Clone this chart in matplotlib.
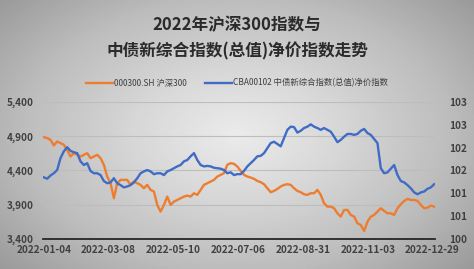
import numpy as np
import matplotlib
matplotlib.use("Agg")
import matplotlib.pyplot as plt

plt.rcParams['font.family'] = ['Noto Sans CJK SC', 'DejaVu Sans']

title = "2022年沪深300指数与\n中债新综合指数(总值)净价指数走势"
name_csi = "000300.SH 沪深300"
name_bond = "CBA00102 中债新综合指数(总值)净价指数"

# trading-day tick labels (every 40 trading days)
tick_labels = ["2022-01-04", "2022-03-08", "2022-05-10", "2022-07-06",
               "2022-08-31", "2022-11-03", "2022-12-29"]
n_days = 242

# CSI 300 (~every 2 trading days)
csi300 = [4887, 4873, 4848, 4765, 4824, 4800, 4775, 4702, 4604, 4653,
          4629, 4604, 4629, 4653, 4580, 4604, 4629, 4580, 4483, 4312,
          4214, 3995, 4214, 4263, 4263, 4263, 4190, 4239, 4214, 4190,
          4141, 4190, 4117, 4092, 3897, 3800, 3897, 4019, 3897, 3946,
          3970, 3995,
          4019, 4034, 4019, 4068, 4044, 4117, 4190, 4214, 4239, 4263,
          4312, 4336, 4361, 4483, 4507, 4497, 4458, 4395, 4336, 4312,
          4297, 4278, 4248, 4229, 4200, 4141, 4083, 4102, 4131, 4166,
          4190, 4200, 4190, 4141, 4102, 4083, 4053, 4044, 4068,
          4068, 4117, 4044, 3922, 3873, 3873, 3849, 3775, 3727, 3824,
          3824, 3751, 3727, 3629, 3605, 3517, 3653, 3727, 3751, 3800,
          3849, 3810, 3775, 3775, 3751, 3849, 3907, 3956, 3985, 3970,
          3970, 3956, 3897, 3849, 3858, 3888, 3873]

# CBA00102 net price index
bond = [101.35, 101.32, 101.39, 101.44, 101.51, 101.77, 101.92, 102.01, 101.93, 101.90,
        101.88, 101.70, 101.62, 101.66, 101.49, 101.44, 101.44, 101.40, 101.27, 101.22,
        101.24, 101.33, 101.22, 101.18, 101.13, 101.15, 101.18, 101.24, 101.33, 101.44,
        101.48, 101.51, 101.48, 101.42, 101.44, 101.44, 101.40, 101.48, 101.51, 101.55,
        101.59, 101.62,
        101.70, 101.73, 101.81, 101.88, 101.73, 101.62, 101.59, 101.60, 101.59, 101.56,
        101.55, 101.54, 101.51, 101.44, 101.46, 101.40, 101.42, 101.42, 101.49, 101.59,
        101.66, 101.73, 101.81, 101.82, 101.88, 101.99, 102.10, 102.13, 102.08, 102.03,
        102.21, 102.39, 102.46, 102.45, 102.33, 102.37, 102.43, 102.46, 102.51,
        102.46, 102.43, 102.39, 102.43, 102.39, 102.35, 102.24, 102.12, 102.17, 102.24,
        102.30, 102.30, 102.28, 102.30, 102.37, 102.41, 102.32, 102.28, 102.19, 102.10,
        101.55, 101.44, 101.46, 101.54, 101.62, 101.40, 101.27, 101.24, 101.18, 101.11,
        101.02, 100.98, 101.02, 101.04, 101.10, 101.13, 101.20]

left_ticks = [3400, 3900, 4400, 4900, 5400]
right_ticks = [100, 100.5, 101, 101.5, 102, 102.5, 103]
right_labels = ["100", "101", "101", "102", "102", "103", "103"]

orange = "#ED7D31"
blue = "#3F6CC4"
txt = "#404040"

fig = plt.figure(figsize=(4.74, 2.69), dpi=100)

# grey radial gradient background
bg = fig.add_axes([0, 0, 1, 1], zorder=-10)
yy, xx = np.mgrid[-1:1:200j, -1:1:350j]
r = np.sqrt(xx ** 2 + (yy * 0.9) ** 2)
bg.imshow(r, cmap="Greys", vmin=-0.6, vmax=3.4, aspect="auto",
          extent=[0, 1, 0, 1])
bg.axis("off")

ax = fig.add_axes([43 / 474, 30 / 269, 392 / 474, 137 / 269])
ax.patch.set_alpha(0)
x = np.linspace(0, n_days - 1, len(csi300))
l1, = ax.plot(x, csi300, color=orange, lw=1.7, solid_joinstyle="round")
ax.set_ylim(3400, 5400)
ax.set_xlim(-0.5, n_days - 0.5)
ax.set_yticks(left_ticks)
ax.set_yticklabels(["{:,}".format(v) for v in left_ticks])
ax.grid(axis="y", color="#bdbdbd", lw=0.8)
ax.set_axisbelow(True)
ax.set_xticks(np.arange(0, n_days, 40))
ax.set_xticklabels(tick_labels)

ax2 = ax.twinx()
x2 = np.linspace(0, n_days - 1, len(bond))
l2, = ax2.plot(x2, bond, color=blue, lw=1.7, solid_joinstyle="round")
ax2.set_ylim(100, 103)
ax2.set_yticks(right_ticks)
ax2.set_yticklabels(right_labels)

for a in (ax, ax2):
    for s in a.spines.values():
        s.set_visible(False)
    a.tick_params(length=0, labelsize=7.2, colors=txt)
    for t in a.get_xticklabels() + a.get_yticklabels():
        t.set_fontweight("bold")
ax.spines["bottom"].set_visible(True)
ax.spines["bottom"].set_color("#262626")
ax.spines["bottom"].set_linewidth(1.3)
ax.tick_params(axis="y", pad=7)
ax.tick_params(axis="x", pad=4)
ax2.tick_params(axis="y", pad=10)

fig.text(0.5, 1 - 38 / 269, title, ha="center", va="center", fontsize=12,
         fontweight="bold", color="#2b2b2b", linespacing=1.6)

fig.legend([l1, l2], [name_csi, name_bond], loc="center",
           bbox_to_anchor=(0.5, 1 - 83 / 269), bbox_transform=fig.transFigure,
           ncol=2, frameon=False, fontsize=6, handlelength=3.2,
           columnspacing=2.2, handletextpad=0.1, labelcolor=txt)

fig.savefig("out.png", dpi=100)
